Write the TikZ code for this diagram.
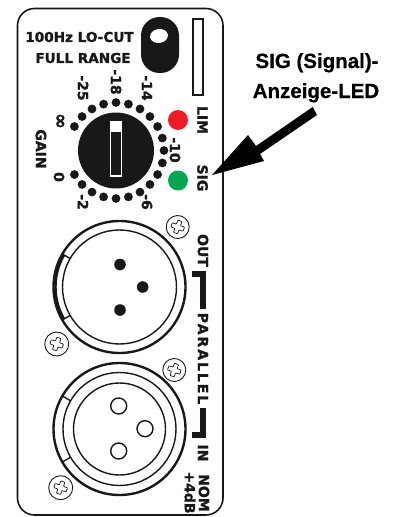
\documentclass[tikz,border=0pt]{standalone}
\usepackage{fontspec}
\setmainfont{DejaVu Sans}[FakeBold=0]
\newfontfamily\panelfont[FakeBold=1.5]{DejaVu Sans Bold}
\newfontfamily\capfont[FakeBold=0.6]{Liberation Sans Bold}
\definecolor{ledred}{HTML}{ED1C24}
\definecolor{ledgreen}{HTML}{00A651}
\definecolor{ink}{HTML}{1A1718}
\tikzset{
  panel/.style={draw=ink,line width=1.6pt,rounded corners=17pt},
  lbl/.style={font=\panelfont\fontsize{14}{16}\selectfont,text=ink,inner sep=0pt},
  vlbl/.style={lbl,rotate=-90},
  toplbl/.style={font=\panelfont\fontsize{13.6}{15}\selectfont,text=ink,inner sep=0pt},
  callout/.style={font=\capfont\fontsize{20.5}{24}\selectfont,text=black,inner sep=0pt,anchor=base},
  tick/.style={fill=ink},
  bracket/.style={draw=ink,line width=5.2pt,line cap=butt,line join=miter},
  ring/.style={draw=ink,line width=1.4pt},
  ringheavy/.style={draw=ink,line width=2.4pt},
  screwbody/.style={draw=ink,line width=0.9pt,fill=white},
  screwplus/.style={draw=ink,line width=0.7pt,fill=white,rounded corners=0.6pt},
}
\newcommand{\screwat}[3]{%
  \begin{scope}[shift={(#1,#2)},rotate=-20]
    \draw[screwbody] (0,0) circle (#3);
    \draw[screwplus] (-2.2,-6.5)--(2.2,-6.5)--(2.2,-2.2)--(6.5,-2.2)--(6.5,2.2)--(2.2,2.2)--(2.2,6.5)--(-2.2,6.5)--(-2.2,2.2)--(-6.5,2.2)--(-6.5,-2.2)--(-2.2,-2.2)--cycle;
  \end{scope}}
\newcommand{\notchat}[3]{%
  \draw[ring] ({119.5+#3*cos(150)},{#1-#3*sin(150)}) -- ({119.5+#2*cos(150)},{#1-#2*sin(150)});
  \draw[ring] ({119.5+#3*cos(150)},{#1+#3*sin(150)}) -- ({119.5+#2*cos(150)},{#1+#2*sin(150)});}
\begin{document}
\begin{tikzpicture}[x=1pt,y=-1pt]
\useasboundingbox (0,0) rectangle (392,517);
% panel
\draw[panel] (17.5,8.5) rectangle (223,515);
% switch
\fill[ink,rounded corners=18.5pt] (141,17) rectangle (179,73);
\fill[white,rotate around={8:(159,36)}] (159,36) ellipse (9 and 7);
% meter slot
\draw[ink,line width=1.3pt] (193,19) rectangle (203,95);
% top text
\node[toplbl] (locut) at (79.5,37) {100Hz LO-CUT};
\node[toplbl] (fullrange) at (83,58) {FULL RANGE};
% gain dots
\foreach \a in {-150,-135,...,150}
  \fill[tick] ({116+48*cos(\a)},{150.5-48*sin(\a)}) circle (4.4);
% knob
\fill[ink] (116,150.5) circle (38);
\draw[white,line width=1.2pt] (110.5,121.5) rectangle (121.5,176);
\fill[white] (110.5,121.5) rectangle (121.5,132);
% LEDs
\fill[ledred] (178,120) circle (10);
\fill[ledgreen] (178,180.5) circle (10);
% scale labels
\node[vlbl] (m25) at (83,88) {-25};
\node[vlbl] (m18) at (116,82) {-18};
\node[vlbl] (m14) at (147,88) {-14};
\node[vlbl,font=\panelfont\fontsize{19}{20}\selectfont] (inf) at (59.5,121) {∞};
\node[vlbl] (gain) at (41,149) {GAIN};
\node[vlbl] (z0) at (59,177) {0};
\node[vlbl] (m2) at (83,202) {-2};
\node[vlbl] (m6) at (147,202) {-6};
\node[vlbl] (m10) at (175,150) {-10};
\node[vlbl] (lim) at (202.5,120) {LIM};
\node[vlbl] (sig) at (202.5,178) {SIG};
% XLR out
\draw[ringheavy] (119.5,287) circle (66);
\draw[ring] (119.5,287) circle (57);
\draw[ringheavy] ({119.5+64*cos(150)},{287-64*sin(150)}) arc[start angle=-150,end angle=-210,radius=64];
\notchat{287}{57}{65}
\foreach \py/\px in {264.5/120,287/142.7,310/120}
  \fill[ink] (\px,\py) circle (5.8);
\screwat{177.7}{227}{11.5}
\screwat{56.7}{344}{12}
% XLR in
\draw[ringheavy] (119.5,429) circle (66);
\draw[ring] (119.5,429) circle (56.5);
\draw[ring] (119.5,429) circle (46);
\notchat{429}{56.5}{65}
\foreach \py/\px in {406/118.7,428.7/145,451/118.7}
  \draw[ring] (\px,\py) circle (8);
\screwat{174.3}{370}{11.5}
\screwat{60.7}{487.7}{12}
% right labels and brackets
\node[vlbl] (out) at (203,250.5) {OUT};
\draw[bracket] (192,274) -- (203,274) -- (203,308.5);
\node[vlbl,font=\panelfont\fontsize{14}{16}\selectfont\addfontfeature{LetterSpace=14}] (parallel) at (203,358.5) {PARALLEL};
\draw[bracket] (203,408) -- (203,435) -- (192,435);
\node[vlbl] (in) at (203,453) {IN};
\node[vlbl] (nom) at (204,493) {NOM};
\node[vlbl] (plus) at (190,492.5) {+4dB};
% callout
\node[callout] (cap1) at (317,68) {SIG (Signal)-};
\node[callout] (cap2) at (316,98) {Anzeige-LED};
\fill[black] (212,175) -- (248,135) -- (256,146) -- (312.7,107) -- (317,115) -- (260,154) -- (264,161) -- cycle;
\end{tikzpicture}
\end{document}
